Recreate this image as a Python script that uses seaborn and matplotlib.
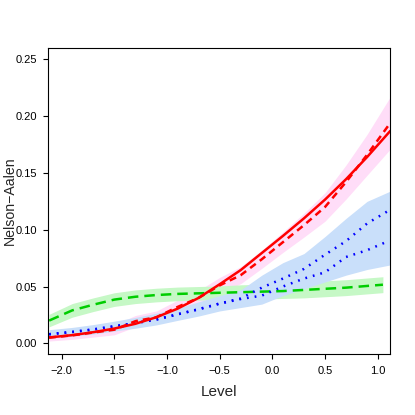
import numpy as np
import pandas as pd
import seaborn as sns
import matplotlib
matplotlib.use("Agg")
import matplotlib.pyplot as plt

# ---- data ----
level = [-2.12, -1.9, -1.7, -1.5, -1.3, -1.1, -0.9, -0.7, -0.5, -0.3,
         -0.1, 0.1, 0.3, 0.5, 0.7, 0.9, 1.12]

red_fit = [0.0052, 0.0072, 0.0098, 0.0130, 0.0172, 0.0230, 0.0305, 0.0400,
           0.0520, 0.0645, 0.0795, 0.0945, 0.1100, 0.1265, 0.1445, 0.1640, 0.1870]

red_na = [0.0050, 0.0070, 0.0095, 0.0120, 0.0195, 0.0230, 0.0320, 0.0400,
          0.0510, 0.0600, 0.0740, 0.0890, 0.1040, 0.1200, 0.1420, 0.1660, 0.1940]
red_lo = [0.0020, 0.0035, 0.0055, 0.0075, 0.0145, 0.0175, 0.0260, 0.0335,
          0.0440, 0.0525, 0.0660, 0.0800, 0.0935, 0.1075, 0.1270, 0.1480, 0.1710]
red_hi = [0.0080, 0.0105, 0.0135, 0.0165, 0.0245, 0.0285, 0.0380, 0.0465,
          0.0580, 0.0675, 0.0820, 0.0980, 0.1145, 0.1325, 0.1570, 0.1840, 0.2170]

blue_level = [-2.12, -1.9, -1.7, -1.5, -1.3, -1.1, -0.9, -0.7, -0.5, -0.3,
              -0.1, 0.1, 0.3, 0.5, 0.7, 0.9, 1.09]
blue_upper = [0.0080, 0.0100, 0.0122, 0.0150, 0.0178, 0.0210, 0.0255, 0.0300,
              0.0350, 0.0395, 0.0490, 0.0570, 0.0655, 0.0780, 0.0900, 0.1055, 0.1160]
blue_lower = [0.0080, 0.0100, 0.0122, 0.0150, 0.0178, 0.0210, 0.0255, 0.0300,
              0.0350, 0.0390, 0.0420, 0.0500, 0.0570, 0.0625, 0.0760, 0.0820, 0.0895]
blue_lo = [0.0045, 0.0062, 0.0082, 0.0108, 0.0133, 0.0162, 0.0202, 0.0240,
           0.0285, 0.0315, 0.0345, 0.0420, 0.0480, 0.0540, 0.0600, 0.0650, 0.0690]
blue_hi = [0.0120, 0.0140, 0.0165, 0.0195, 0.0228, 0.0265, 0.0310, 0.0365,
           0.0420, 0.0470, 0.0600, 0.0710, 0.0790, 0.0940, 0.1100, 0.1250, 0.1340]

green_level = [-2.12, -1.9, -1.7, -1.5, -1.3, -1.1, -0.9, -0.7, -0.5, -0.3,
               -0.1, 0.1, 0.3, 0.5, 0.7, 0.9, 1.05]
green_na = [0.0200, 0.0290, 0.0340, 0.0385, 0.0410, 0.0425, 0.0435, 0.0440,
            0.0445, 0.0450, 0.0455, 0.0460, 0.0470, 0.0480, 0.0490, 0.0505, 0.0516]
green_lo = [0.0145, 0.0230, 0.0280, 0.0325, 0.0350, 0.0365, 0.0375, 0.0380,
            0.0385, 0.0385, 0.0390, 0.0395, 0.0400, 0.0410, 0.0420, 0.0435, 0.0446]
green_hi = [0.0255, 0.0350, 0.0400, 0.0445, 0.0470, 0.0485, 0.0495, 0.0500,
            0.0505, 0.0515, 0.0520, 0.0525, 0.0540, 0.0550, 0.0560, 0.0575, 0.0586]

x_ticks = [-2.0, -1.5, -1.0, -0.5, 0.0, 0.5, 1.0]
y_ticks = [0.00, 0.05, 0.10, 0.15, 0.20, 0.25]

# ---- plot ----
sns.set_style("white")
plt.rcParams['font.family'] = ['Liberation Sans', 'DejaVu Sans']
plt.rcParams['axes.unicode_minus'] = True

fig = plt.figure(figsize=(4.15, 4.15), dpi=100)
ax = fig.add_axes([0.1157, 0.147, 0.824, 0.7366])

ax.fill_between(level, red_lo, red_hi, color="#FFDDF8", lw=0)
ax.fill_between(green_level, green_lo, green_hi, color="#C6F8C6", lw=0)
ax.fill_between(level, blue_lo, blue_hi, color="#C9DFFA", lw=0)

lw = 1.8
sns.lineplot(x=green_level, y=green_na, ax=ax, color="#00CD00", lw=lw,
             linestyle=(0, (4.2, 2.4)), sort=False)
sns.lineplot(x=blue_level, y=blue_upper, ax=ax, color="#0000FF", lw=lw,
             linestyle=(0, (0.7, 2.4)), sort=False)
sns.lineplot(x=blue_level, y=blue_lower, ax=ax, color="#0000FF", lw=lw,
             linestyle=(0, (0.7, 2.4)), sort=False)
sns.lineplot(x=level, y=red_na, ax=ax, color="#FF0000", lw=lw,
             linestyle=(0, (2.8, 2.0)), sort=False)
sns.lineplot(x=level, y=red_fit, ax=ax, color="#FF0000", lw=lw,
             linestyle="-", sort=False)

ax.set_xlim(-2.13, 1.117)
ax.set_ylim(-0.0094, 0.2597)
ax.set_xticks(x_ticks)
ax.set_yticks(y_ticks)
ax.set_xticklabels([f"{t:.1f}".replace("-", "\u2212") for t in x_ticks])
ax.set_yticklabels([f"{t:.2f}" for t in y_ticks])
ax.tick_params(axis="both", which="major", direction="out", length=3.8,
               width=0.8, color="black", labelsize=8.0, labelcolor="black",
               bottom=True, left=True)
ax.tick_params(axis="x", pad=4.8)
ax.tick_params(axis="y", pad=4.0)
for s in ax.spines.values():
    s.set_visible(True)
    s.set_color("black")
    s.set_linewidth(0.8)

ax.set_xlabel("Level", fontsize=11)
ax.set_ylabel("Nelson\u2212Aalen", fontsize=10.2)
ax.xaxis.set_label_coords(0.5, -0.103)
ax.yaxis.set_label_coords(-0.0925, 0.5)

fig.savefig("out.png", dpi=100, facecolor="white")
